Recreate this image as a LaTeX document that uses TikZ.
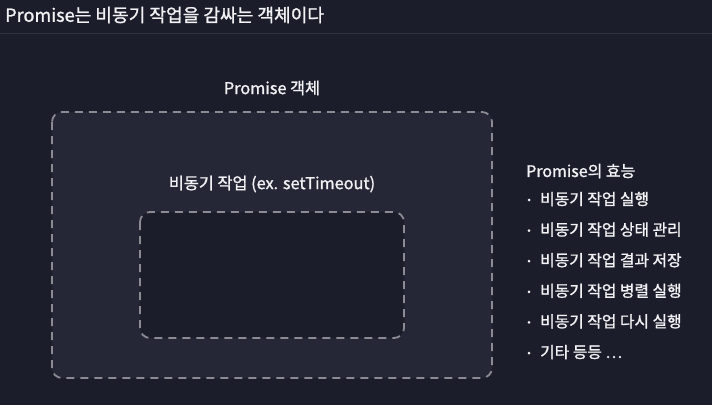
\documentclass[tikz,border=0pt]{standalone}
\usepackage{fontspec}
\setmainfont{Noto Sans CJK KR}[FakeBold=1.2]
\definecolor{bg}{HTML}{1C1D2B}
\definecolor{outerfill}{HTML}{262736}
\definecolor{dashgray}{HTML}{8A8B93}
\definecolor{rulecol}{HTML}{30323F}
\definecolor{txt}{HTML}{F2F2F4}
\begin{document}
\begin{tikzpicture}[x=1pt,y=-1pt,
  dbox/.style={draw=dashgray,line width=1.8pt,dash pattern=on 8pt off 6pt,rounded corners=10pt},
  lbl/.style={text=txt,inner sep=0pt,font=\fontsize{16.3}{19}\selectfont},
  item/.style={text=txt,inner sep=0pt,anchor=west,font=\fontsize{15.8}{18}\selectfont}]
\fill[bg] (0,0) rectangle (712,405);
\useasboundingbox (0,0) rectangle (712,405);
\node[text=txt,inner sep=0pt,anchor=west,font=\fontsize{18.1}{22}\selectfont] (title) at (5,15) {Promise는 비동기 작업을 감싸는 객체이다};
\draw[rulecol,line width=1pt] (0,33) -- (712,33);
\draw[dbox,fill=outerfill] (52,112) rectangle (492,378);
\draw[dbox,fill=bg] (140,212) rectangle (404,338);
\node[lbl] (outer) at (272,88) {Promise 객체};
\node[lbl] (inner) at (272,184) {비동기 작업 (ex. setTimeout)};
\node[item,font=\fontsize{16}{19}\selectfont] (head) at (526,171) {Promise의 효능};
\foreach \t [count=\i] in {{비동기 작업 실행},{비동기 작업 상태 관리},{비동기 작업 결과 저장},{비동기 작업 병렬 실행},{비동기 작업 다시 실행},{기타 등등 \ldots}}{
  \node[item] (it\i) at (540,{199+(\i-1)*30.6}) {\t};
  \fill[txt] (529,{200+(\i-1)*30.6}) circle (1.5pt);
}
\end{tikzpicture}
\end{document}
